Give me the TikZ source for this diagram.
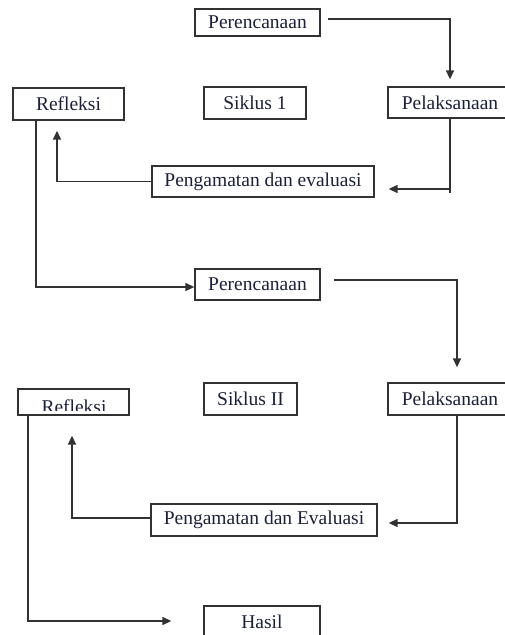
\documentclass[tikz,border=0pt]{standalone}
\usepackage{fontspec}
\setmainfont{Liberation Serif}
\usetikzlibrary{arrows.meta,calc}
\definecolor{txt}{RGB}{28,32,58}
\definecolor{ln}{RGB}{50,50,50}
\begin{document}
\begin{tikzpicture}[x=1pt,y=-1pt,
  box/.style={draw=ln,line width=1.3pt,fill=white,inner sep=0pt,text=txt,
    font=\fontsize{19.5}{22}\selectfont},
  link/.style={draw=ln,line width=1.4pt},
  arr/.style={link,-{Triangle[length=9pt,width=8pt]}}]
\useasboundingbox (0,0) rectangle (504,635);
% Siklus 1
\node[box,minimum width=125pt,minimum height=27pt] (p1) at (257.5,22.5) {Perencanaan};
\node[box,minimum width=111pt,minimum height=32pt] (ref1) at (68.5,104) {Refleksi};
\node[box,minimum width=102pt,minimum height=32pt] (sik1) at (255,103) {Siklus 1};
\node[box,minimum width=124pt,minimum height=31pt] (pel1) at (450,102.5) {Pelaksanaan};
\node[box,minimum width=222pt,minimum height=31pt] (pe1) at (263,181.5) {Pengamatan dan evaluasi};
% Siklus 2
\node[box,minimum width=125pt,minimum height=31pt] (p2) at (257.5,284.5) {Perencanaan};
\node[box,minimum width=111pt,minimum height=26pt] (ref2) at (73.5,402) {};
\begin{scope}
  \clip (18,389) rectangle (129,410);
  \node[text=txt,font=\fontsize{19.5}{22}\selectfont,anchor=base,inner sep=0pt] (ref2t) at (74,413) {Refleksi};
\end{scope}
\node[box,minimum width=93pt,minimum height=32pt] (sik2) at (250.5,399) {Siklus II};
\node[box,minimum width=124pt,minimum height=32pt] (pel2) at (450,399) {Pelaksanaan};
\node[box,minimum width=226pt,minimum height=32pt] (pe2) at (264,520) {Pengamatan dan Evaluasi};
\node[box,minimum width=116pt,minimum height=32pt] (hasil) at (262,622) {Hasil};
% connectors cycle 1
\draw[arr] ([xshift=7pt,yshift=3.5pt]p1.east) -| ([yshift=7pt]pel1.north);
\coordinate (t1) at (450,193);
\draw[link] (pel1.south) -- (t1);
\draw[arr] (pel1.south |- 0,189) -- ([xshift=14pt]pe1.east |- 0,189);
\draw[arr] (pe1.west) -| ([xshift=-11.5pt,yshift=-10pt]ref1.south);
\draw[arr] ([xshift=-32.5pt]ref1.south) |- ([yshift=-2.5pt]p2.west);
% connectors cycle 2
\draw[arr] ([xshift=13pt,yshift=4.5pt]p2.east) -| ([xshift=7pt,yshift=15pt]pel2.north);
\draw[arr] ([xshift=7pt]pel2.south) |- ([xshift=11pt,yshift=-3pt]pe2.east);
\draw[arr] ([yshift=2pt]pe2.west) -| ([xshift=-1.5pt,yshift=-20pt]ref2.south);
\draw[arr] ([xshift=-45.5pt]ref2.south) |- ([xshift=-32pt,yshift=1pt]hasil.west);
\end{tikzpicture}
\end{document}
